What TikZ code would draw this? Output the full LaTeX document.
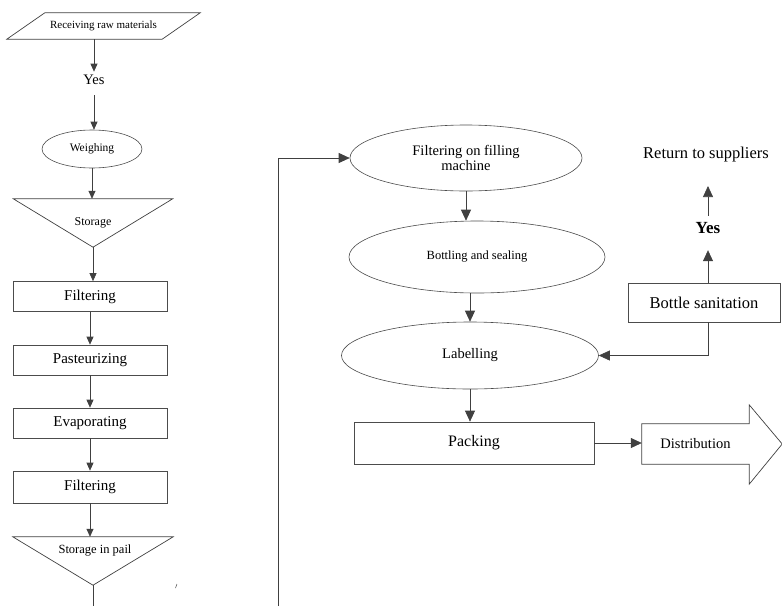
\documentclass[tikz,border=0pt]{standalone}
\usepackage{fontspec}
\setmainfont{Liberation Serif}
\usetikzlibrary{arrows.meta,shapes.geometric}
\newcommand{\fsz}[1]{\fontsize{#1}{#1}\selectfont}

\begin{document}
\begin{tikzpicture}[x=1pt, y=-1pt,
  line/.style={draw=black!75, line width=0.7pt},
  flow/.style={line, -{Triangle[length=8pt,width=7pt]}},
  bigflow/.style={line, -{Triangle[length=11pt,width=10pt]}},
  procbox/.style={draw=black!70, line width=0.7pt, inner sep=0pt, minimum width=154pt, minimum height=30pt, font=\fsz{15}},
  oval/.style={ellipse, draw=black!70, line width=0.6pt, inner sep=0pt},
  blank/.style={inner sep=0pt}]
  \useasboundingbox (0,0) rectangle (782,606);

  % Left column
  \node[blank, minimum width=117pt, minimum height=26pt, font=\fsz{11}] (recv) at (103.5,26) {Receiving raw materials};
  \draw[line] (recv.north west) -- ([xshift=38pt]recv.north east) -- (recv.south east) -- ([xshift=-38pt]recv.south west) -- cycle;
  \node[font=\fsz{14.5}] (yes1) at (94,80) {Yes};
  \node[oval, minimum width=100pt, minimum height=38pt, font=\fsz{11.5}] (weigh) at (92,149) {Weighing};
  \node[blank, minimum width=159pt, minimum height=48pt, font=\fsz{12}] (store) at (93,223) {Storage};
  \draw[line] (store.north west) -- (store.north east) -- (store.south) -- cycle;
  \node[procbox] (filt1) at (90,296.5) {Filtering};
  \node[procbox] (past) at (90,360) {Pasteurizing};
  \node[procbox] (evap) at (90,423) {Evaporating};
  \node[procbox, minimum height=32pt] (filt2) at (90,487) {Filtering};
  \node[blank, minimum width=160pt, minimum height=48pt] (pail) at (93,561) {};
  \draw[line] (pail.north west) -- (pail.north east) -- (pail.south) -- cycle;
  \node[font=\fsz{12.5}] (pailtext) at (95,551) {Storage in pail};
  \coordinate (pailend) at (93,606);

  \draw[flow] (yes1 |- recv.south) -- (yes1.north);
  \draw[flow, shorten <=7pt] (yes1.south) -- (yes1.south |- weigh.north);
  \draw[flow] (weigh.south) -- (weigh.south |- store.north);
  \draw[flow] (store.south) -- (store.south |- filt1.north);
  \draw[flow] (filt1.south) -- (past.north);
  \draw[flow] (past.south) -- (evap.north);
  \draw[flow] (evap.south) -- (filt2.north);
  \draw[flow] (filt2.south) -- (filt2.south |- pail.north);
  \draw[line] (pail.south) -- (pailend);
  \draw[line, line width=0.5pt] (175.5,588) -- (177,584);

  % Right part
  \node[oval, minimum width=232pt, minimum height=66pt, align=center, font=\fsz{14.5}] (fillm) at (466,158) {Filtering on filling\\machine};
  \node[oval, minimum width=256pt, minimum height=72pt, font=\fsz{12.5}] (bottl) at (477,257) {Bottling and sealing};
  \node[oval, minimum width=257pt, minimum height=67pt, font=\fsz{14.5}] (label) at (470,355.5) {Labelling};
  \node[procbox, minimum width=240pt, minimum height=42pt, font=\fsz{16}] (pack) at (474,443) {Packing};
  \node[blank, minimum width=107pt, minimum height=40pt, font=\fsz{14.5}] (dist) at (695.5,444) {Distribution};
  \draw[line] (dist.north west) -- (dist.north east) -- ([yshift=19pt]dist.north east) -- ([xshift=33pt]dist.east)
    -- ([yshift=-20pt]dist.south east) -- (dist.south east) -- (dist.south west) -- cycle;
  \node[procbox, minimum width=152pt, minimum height=39pt, font=\fsz{16.5}] (sanit) at (704,302.5) {Bottle sanitation};
  \node[font=\fsz{17}\bfseries] (yes2) at (708,228) {Yes};
  \node[font=\fsz{16.5}] (ret) at (706,155) {Return to suppliers};
  \coordinate (loopbot) at (278,606);

  \draw[bigflow] (loopbot) |- (fillm.west);
  \draw[bigflow] (fillm.south) -- (fillm.south |- bottl.north);
  \draw[bigflow] (label.north |- bottl.south) -- (label.north);
  \draw[bigflow] (label.south) -- (label.south |- pack.north);
  \draw[bigflow] (pack.east) -- (pack.east -| dist.west);
  \draw[bigflow] ([xshift=4pt]sanit.south) |- (label.east);
  \draw[bigflow, shorten >=13pt] (yes2 |- sanit.north) -- (yes2.south);
  \draw[bigflow, shorten <=3pt, shorten >=20pt] (yes2.north) -- (yes2.north |- ret.south);
\end{tikzpicture}
\end{document}
